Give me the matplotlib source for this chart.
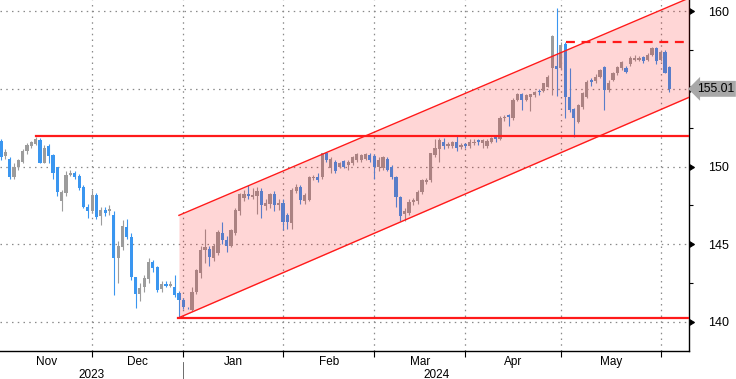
import matplotlib
matplotlib.use("Agg")
import matplotlib.pyplot as plt
import numpy as np
import pandas as pd

plt.rcParams['font.family'] = ['Liberation Sans', 'DejaVu Sans']

# ---------------- data ----------------
dates = pd.bdate_range("2023-11-01", "2024-06-04")

opens = [151.65, 150.7, 150.5, 149.3, 150.0, 150.3, 151.0, 151.3, 151.45, 151.7,
         150.25, 151.35, 150.75, 149.95, 147.8, 148.3, 149.45, 149.6, 149.4, 148.7,
         147.4, 147.15, 148.15, 146.8, 147.2, 147.1, 146.9, 144.1, 144.8, 146.1,
         145.45, 142.85, 141.8, 142.2, 142.75, 143.85, 143.5, 142.1, 142.45, 142.3,
         142.25, 141.85, 141.4, 140.9, 140.75, 141.9, 143.1, 144.6, 144.7, 144.1,
         144.4, 145.7, 145.25, 144.9, 145.7, 147.1, 148.0, 148.2, 148.05, 148.1,
         148.4, 147.45, 147.6, 148.25, 147.5, 147.65, 146.9, 146.35, 148.4, 148.7,
         147.75, 147.85, 149.25, 149.3, 149.35, 150.85, 149.9, 150.3, 150.0, 150.35,
         150.1, 150.2, 150.45, 150.4, 150.5, 150.75, 150.65, 150.0, 149.9, 150.5,
         150.0, 149.35, 148.05, 146.95, 147.0, 147.7, 147.75, 148.35, 149.0, 149.1,
         150.75, 151.1, 151.6, 151.3, 151.35, 151.55, 151.25, 151.45, 151.3, 151.5,
         151.7, 151.5, 151.3, 151.6, 151.9, 151.75, 153.1, 153.3, 153.1, 154.3,
         154.7, 154.3, 154.5, 154.6, 154.9, 154.85, 155.15, 156.35, 156.5, 156.35,
         157.9, 154.5, 153.7, 152.9, 153.86, 154.5, 155.55, 155.5, 155.8, 156.44,
         154.94, 155.6, 156.0, 156.35, 156.35, 156.6, 156.9, 156.9, 157.05, 156.9,
         157.2, 157.63, 156.85, 157.4, 156.44]
highs = [151.8, 151.1, 150.6, 150.2, 150.5, 151.1, 151.5, 151.65, 151.92, 151.85,
         151.4, 151.45, 150.8, 150.0, 148.5, 149.7, 149.75, 149.7, 149.5, 148.8,
         147.6, 148.5, 148.3, 147.4, 147.4, 147.5, 147.1, 145.2, 146.55, 146.6,
         145.7, 142.9, 142.5, 143.0, 144.1, 144.0, 143.6, 142.6, 142.6, 142.6,
         143.0, 141.95, 141.5, 140.95, 142.2, 143.4, 144.9, 146.0, 144.9, 145.0,
         145.9, 146.4, 145.5, 146.0, 147.3, 148.3, 148.5, 148.8, 148.6, 148.7,
         148.6, 147.9, 148.3, 148.4, 147.9, 147.9, 147.0, 148.6, 148.9, 148.8,
         148.3, 149.4, 149.45, 149.55, 150.9, 150.9, 150.6, 150.4, 150.3, 150.45,
         150.4, 150.7, 150.85, 150.8, 150.85, 150.85, 150.8, 150.6, 150.7, 150.6,
         150.1, 149.4, 148.1, 147.3, 147.9, 148.0, 148.5, 149.2, 149.25, 150.9,
         151.8, 151.85, 151.85, 151.6, 151.65, 151.97, 151.5, 151.5, 151.75, 151.8,
         151.8, 151.8, 151.8, 151.9, 151.95, 153.25, 153.3, 153.4, 154.4, 154.75,
         154.75, 154.7, 154.7, 154.9, 155.0, 155.4, 155.9, 158.5, 160.2, 158.0,
         158.0, 156.35, 153.8, 154.0, 154.8, 155.6, 155.7, 155.95, 156.3, 156.5,
         155.6, 156.1, 156.5, 156.8, 156.5, 157.1, 157.2, 157.1, 157.1, 157.3,
         157.7, 157.7, 157.5, 157.5, 156.5]
lows = [150.4, 150.5, 149.2, 149.2, 149.8, 150.2, 150.8, 151.2, 151.4, 150.2,
        150.2, 150.2, 149.2, 148.1, 147.15, 148.1, 149.4, 149.2, 148.5, 147.3,
        146.7, 147.0, 146.6, 146.2, 146.8, 146.9, 141.7, 142.5, 144.6, 145.3,
        142.7, 140.9, 141.3, 141.9, 142.5, 143.2, 141.9, 141.9, 142.2, 142.2,
        141.6, 140.25, 140.8, 140.8, 140.7, 141.8, 142.8, 143.8, 143.6, 143.9,
        144.3, 145.0, 144.5, 144.8, 145.6, 146.9, 147.8, 147.9, 147.9, 146.95,
        146.7, 147.2, 147.3, 147.1, 147.2, 145.9, 146.0, 146.0, 148.3, 147.6,
        147.6, 147.8, 149.1, 149.0, 149.2, 150.3, 149.6, 149.6, 149.9, 149.9,
        149.8, 150.1, 150.3, 150.3, 150.4, 150.3, 149.2, 149.7, 149.8, 149.7,
        149.2, 147.4, 146.5, 146.5, 146.9, 147.5, 147.6, 148.2, 148.9, 149.0,
        150.6, 150.3, 151.1, 151.2, 151.2, 151.0, 151.1, 151.2, 151.2, 151.4,
        151.4, 151.2, 151.2, 151.5, 151.6, 151.7, 152.95, 152.6, 153.0, 154.2,
        153.65, 154.2, 153.6, 154.5, 154.6, 154.8, 155.1, 154.6, 154.55, 156.2,
        153.1, 153.5, 151.92, 152.8, 153.7, 154.4, 155.2, 155.4, 155.7, 153.65,
        154.8, 155.5, 155.9, 156.2, 156.0, 156.5, 156.8, 156.8, 156.7, 156.8,
        157.1, 156.6, 156.8, 156.0, 154.8]
closes = [150.6, 150.95, 149.35, 150.0, 150.4, 151.0, 151.4, 151.6, 151.75, 150.25,
          151.2, 150.7, 149.55, 148.35, 148.35, 149.45, 149.6, 149.35, 148.6, 147.4,
          147.15, 148.15, 146.75, 147.2, 147.0, 147.25, 144.1, 144.9, 146.15, 145.45,
          142.85, 141.8, 142.15, 142.8, 143.85, 143.45, 142.05, 142.45, 142.3, 142.45,
          141.7, 141.4, 140.95, 140.85, 141.9, 143.3, 144.6, 144.8, 144.15, 144.85,
          145.75, 145.25, 144.85, 145.9, 147.2, 148.2, 148.2, 148.1, 148.15, 148.4,
          147.5, 147.65, 148.25, 147.5, 147.65, 146.45, 146.4, 148.5, 148.7, 147.85,
          148.15, 149.35, 149.35, 149.15, 150.85, 150.45, 150.5, 149.7, 150.2, 150.0,
          150.3, 150.6, 150.8, 150.75, 150.8, 150.42, 150.0, 150.45, 150.6, 149.8,
          149.35, 148.05, 146.8, 147.1, 147.7, 147.85, 148.35, 149.1, 149.15, 150.85,
          151.2, 151.7, 151.3, 151.45, 151.55, 151.2, 151.4, 151.3, 151.6, 151.6,
          151.55, 151.7, 151.65, 151.85, 151.75, 153.15, 153.2, 153.2, 154.3, 154.7,
          154.3, 154.6, 154.65, 154.83, 154.8, 155.37, 155.8, 158.45, 156.3, 157.85,
          154.5, 153.65, 153.1, 153.97, 154.72, 155.47, 155.45, 155.8, 156.2, 154.94,
          155.4, 156.0, 156.44, 156.76, 156.1, 156.98, 157.0, 157.0, 156.8, 157.19,
          157.63, 156.83, 157.4, 156.05, 155.01]

resistance_level = 151.95
support_level = 140.25
dashed_level = 158.05
channel_x = [41.0, 158.6]
channel_upper = [146.85, 160.87]
channel_lower = [140.25, 154.47]
last_price = 155.01

month_names = ["Nov", "Dec", "Jan", "Feb", "Mar", "Apr", "May"]
year_names = ["2023", "2024"]
ytick_vals = [140, 145, 150, 155, 160]
ytick_labels = ["140", "145", "150", "", "160"]

# ---------------- figure ----------------
UP = '#9c9c9c'
DOWN = '#3a96f0'
RED = '#ff1a1a'

fig = plt.figure(figsize=(7.36, 3.79), dpi=100)
ax = fig.add_axes([0, 28 / 379, 689 / 736, 1 - 28 / 379])

n = len(closes)
xs = np.arange(n)
o = np.array(opens); h = np.array(highs); l = np.array(lows); c = np.array(closes)
up = c >= o
cols = np.where(up, UP, DOWN)
ax.vlines(xs, l, h, colors=cols, linewidth=0.8, zorder=2)
body_lo = np.minimum(o, c)
body_h = np.maximum(np.abs(c - o), 0.05)
ax.bar(xs, body_h, bottom=body_lo, width=0.74, color=cols, linewidth=0, zorder=2.5)

# month boundaries (last business day of each month)
s = pd.Series(np.arange(n), index=dates)
month_end_idx = s.groupby([dates.year, dates.month]).max().values[:-1]

xlim = (-0.23, 158.53)
ax.set_xlim(*xlim)
ax.set_ylim(138.1, 160.74)

# grid
for xv in month_end_idx:
    ax.axvline(xv, color='#8a8a8a', lw=0.9, ls=(0, (1.2, 3.4)), zorder=1)
for yv in ytick_vals:
    ax.axhline(yv, color='#8a8a8a', lw=0.9, ls=(0, (1.2, 3.4)), zorder=1)

# channel
fx = np.array(channel_x)
ax.fill_between(fx, channel_lower, channel_upper, color='red', alpha=0.16,
                linewidth=0, zorder=3)
ax.plot(fx, channel_upper, color=RED, lw=1.0, zorder=4)
ax.plot(fx, channel_lower, color=RED, lw=1.0, zorder=4)
ax.plot([8, xlim[1]], [resistance_level] * 2, color=RED, lw=1.6, zorder=4)
ax.plot([40.8, xlim[1]], [support_level] * 2, color=RED, lw=1.6, zorder=4)
ax.plot([130.2, xlim[1]], [dashed_level] * 2, color=RED, lw=1.6,
        ls=(0, (4, 3)), zorder=4)

# spines
for sp in ['top', 'left']:
    ax.spines[sp].set_visible(False)
ax.spines['right'].set_linewidth(1.0)
ax.spines['bottom'].set_linewidth(1.0)

# y axis on right
ax.yaxis.tick_right()
ax.set_yticks(ytick_vals)
ax.set_yticklabels(ytick_labels, fontsize=9)
ax.set_yticks([142.5, 147.5, 152.5, 157.5], minor=True)
ax.tick_params(axis='y', which='major', length=5, pad=9, colors='black')
ax.tick_params(axis='y', which='minor', length=3, width=0.8, direction='out')
for t in ax.yaxis.get_major_ticks():
    t.tick2line.set_marker(9)
    t.tick2line.set_markersize(5)
    t.tick2line.set_markerfacecolor('black')
    t.tick2line.set_markeredgecolor('black')

# x axis
ax.set_xticks(month_end_idx)
ax.set_xticklabels([])
ax.tick_params(axis='x', which='major', length=4, width=0.8, direction='out')

bounds = [0] + list(month_end_idx)
for i, name in enumerate(month_names):
    xm = (bounds[i] + bounds[i + 1]) / 2
    ax.text(xm, -0.03, name, transform=ax.get_xaxis_transform(), ha='center',
            va='center', fontsize=8.5)
year_split = month_end_idx[1]
ax.text((xlim[0] + year_split) / 2, -0.067, year_names[0],
        transform=ax.get_xaxis_transform(), ha='center', va='center', fontsize=8.5)
ax.text((year_split + xlim[1]) / 2, -0.067, year_names[1],
        transform=ax.get_xaxis_transform(), ha='center', va='center', fontsize=8.5)
ax.plot([year_split, year_split], [-0.03, -0.085], color='#555555', lw=0.6,
        transform=ax.get_xaxis_transform(), clip_on=False)

# last price tag
ax.annotate(f"{last_price:.2f}", xy=(1, last_price), xycoords=('axes fraction', 'data'),
            xytext=(5.5, 0), textcoords='offset points', ha='left', va='center',
            fontsize=8.8, color='black',
            bbox=dict(boxstyle='larrow,pad=0.16', fc='#a8a8a8', ec='none'),
            annotation_clip=False)

fig.savefig("out.png", dpi=100)
